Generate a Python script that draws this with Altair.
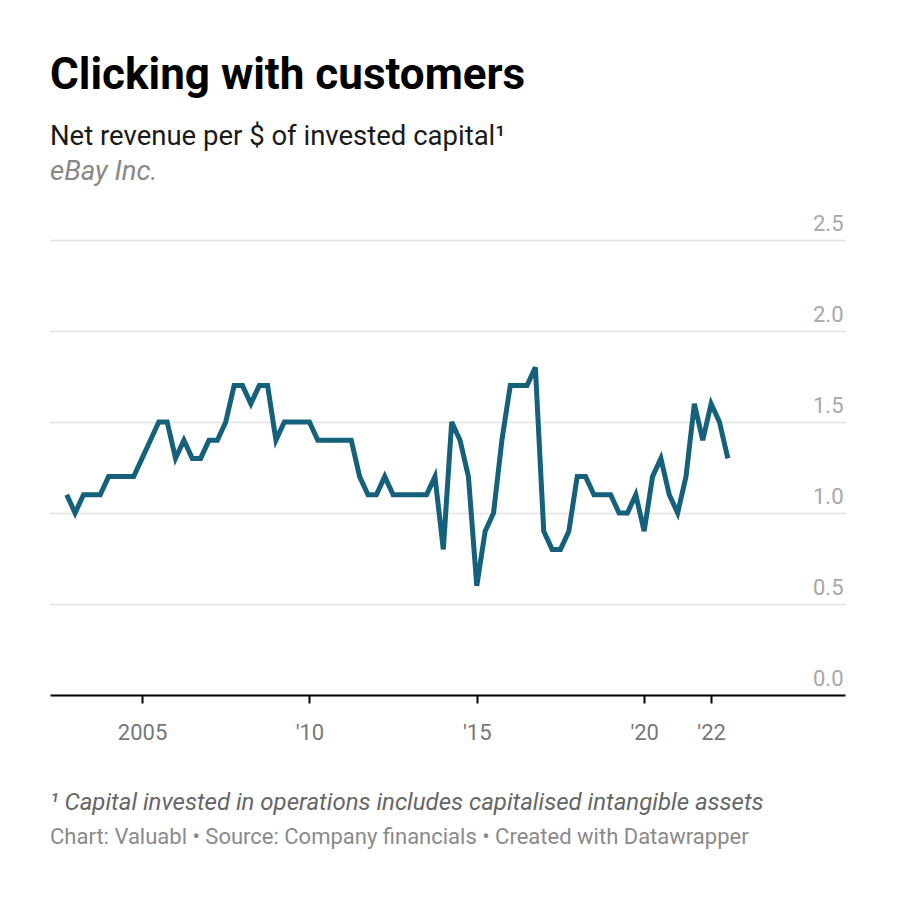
import altair as alt
import pandas as pd

# ---- data ----
start_year = 2002.75  # first quarter shown
values = [
    1.1, 1.0, 1.1, 1.1, 1.1, 1.2, 1.2, 1.2, 1.2, 1.3,
    1.4, 1.5, 1.5, 1.3, 1.4, 1.3, 1.3, 1.4, 1.4, 1.5,
    1.7, 1.7, 1.6, 1.7, 1.7, 1.4, 1.5, 1.5, 1.5, 1.5,
    1.4, 1.4, 1.4, 1.4, 1.4, 1.2, 1.1, 1.1, 1.2, 1.1,
    1.1, 1.1, 1.1, 1.1, 1.2, 0.8, 1.5, 1.4, 1.2, 0.6,
    0.9, 1.0, 1.4, 1.7, 1.7, 1.7, 1.8, 0.9, 0.8, 0.8,
    0.9, 1.2, 1.2, 1.1, 1.1, 1.1, 1.0, 1.0, 1.1, 0.9,
    1.2, 1.3, 1.1, 1.0, 1.2, 1.6, 1.4, 1.6, 1.5, 1.3,
]
periods = [start_year + 0.25 * i for i in range(len(values))]

x_tick_values = [2005, 2010, 2015, 2020, 2022]
x_tick_labels = ["2005", "'10", "'15", "'20", "'22"]
y_tick_values = [0, 0.5, 1.0, 1.5, 2.0, 2.5]

title_text = "Clicking with customers"
subtitle_text = "Net revenue per $ of invested capital\u00b9"
company_text = "eBay Inc."
footnote_text = "\u00b9 Capital invested in operations includes capitalised intangible assets"
credit_text = "Chart: Valuabl \u2022 Source: Company financials \u2022 Created with Datawrapper"

df = pd.DataFrame({"year": periods, "value": values})

label_expr = " : ".join(
    f"datum.value == {v} ? \"{l}\"" for v, l in zip(x_tick_values, x_tick_labels)
) + " : ''"

FONT = "Roboto"

line = alt.Chart(df).mark_line(color="#15607a", strokeWidth=5, strokeJoin="miter").encode(
    x=alt.X(
        "year:Q",
        scale=alt.Scale(domain=[2002.25, 2026], nice=False, zero=False),
        axis=alt.Axis(
            values=x_tick_values,
            labelExpr=label_expr,
            title=None,
            grid=False,
            domainColor="#000000",
            domainWidth=2,
            tickColor="#000000",
            tickWidth=2,
            tickSize=8,
            labelPadding=36,
            labelBaseline="alphabetic",
            labelFontSize=22,
            labelColor="#777777",
            labelFont=FONT,
        ),
    ),
    y=alt.Y(
        "value:Q",
        scale=alt.Scale(domain=[0, 2.5], nice=False),
        axis=alt.Axis(
            orient="right",
            values=y_tick_values,
            format=".1f",
            title=None,
            domain=False,
            ticks=False,
            grid=True,
            gridColor="#e2e2e2",
            gridWidth=1.5,
            labelAlign="right",
            labelBaseline="alphabetic",
            labelPadding=-2,
            labelOffset=-10,
            labelFontSize=22,
            labelColor="#a8a8a8",
            labelFont=FONT,
        ),
    ),
)

one = pd.DataFrame({"k": [0]})

def txt(text, y, size, color, weight="normal", style="normal"):
    return alt.Chart(one).mark_text(
        text=text, align="left", baseline="alphabetic", font=FONT,
        fontSize=size, color=color, fontWeight=weight, fontStyle=style,
    ).encode(x=alt.value(0), y=alt.value(y))

title = txt(title_text, -151, 44, "#000000", weight="bold")
subtitle = txt(subtitle_text, -95, 27.5, "#1a1a1a")
company = txt(company_text, -60, 27.5, "#888888", style="italic")
footnote = txt(footnote_text, 570, 24, "#666666", style="italic")
credit = txt(credit_text, 604, 22, "#8a8a8a")

chart = alt.layer(line, title, subtitle, company, footnote, credit).properties(
    width=795,
    height=455,
    autosize=alt.AutoSizeParams(type="none"),
    padding={"left": 42, "top": 232, "right": 47, "bottom": 197},
    background="white",
).configure_view(stroke=None)

chart.save("out.html", embed_options={"renderer": "svg", "actions": False})
